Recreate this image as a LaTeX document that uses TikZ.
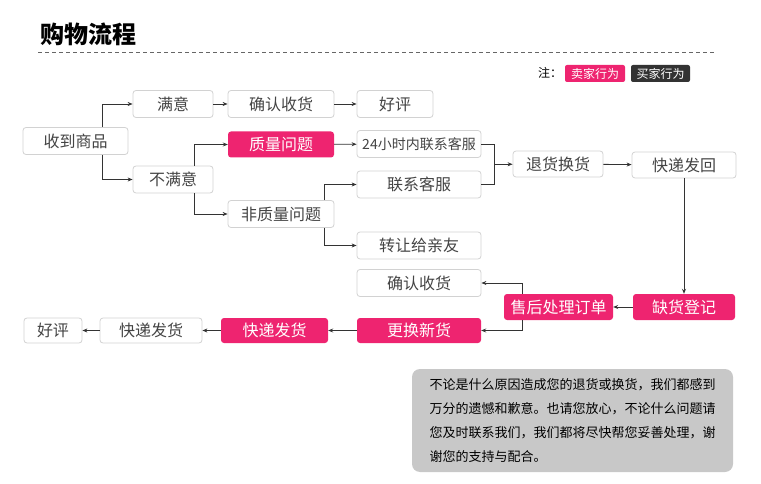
\documentclass[tikz,border=0pt]{standalone}
\usepackage{fontspec}
\newfontfamily\cjk{Noto Sans CJK SC}
\usepackage{tikz}
\usetikzlibrary{arrows.meta,calc}
\definecolor{sellerpink}{RGB}{238,36,112}
\definecolor{buyerdark}{RGB}{51,51,51}
\definecolor{boxline}{RGB}{210,210,210}
\definecolor{boxtext}{RGB}{68,68,68}
\definecolor{notegray}{RGB}{200,200,200}

\begin{document}
\begin{tikzpicture}[x=1pt, y=-1pt,
  every node/.style={font=\cjk\fontsize{16}{18}\selectfont, inner sep=0pt},
  buyer/.style={draw=boxline, line width=0.8pt, rounded corners=3pt, fill=white, text=boxtext, minimum height=27pt},
  seller/.style={fill=sellerpink, rounded corners=3pt, text=white, minimum height=26pt},
  arr/.style={-{Stealth[length=5pt,width=4pt]}, line width=0.8pt, draw=buyerdark}]
  \useasboundingbox (0,0) rectangle (761,484);
  \node[font=\cjk\bfseries\fontsize{24}{26}\selectfont, text=black] (title) at (88.5,34) {购物流程};
  \draw[dashed, dash pattern=on 4pt off 3pt, draw=black!60, line width=0.8pt] (38,52) -- (716,52);
  \node[font=\cjk\fontsize{12}{14}\selectfont, text=black] (note) at (550,73) {注：};
  \node[seller, rounded corners=2pt, minimum width=60pt, minimum height=17pt, font=\cjk\fontsize{12}{14}\selectfont] (keyseller) at (595,73.5) {卖家行为};
  \node[fill=buyerdark, rounded corners=2pt, text=white, minimum width=59pt, minimum height=17pt, font=\cjk\fontsize{12}{14}\selectfont] (keybuyer) at (660.5,73.5) {买家行为};

  \node[buyer, minimum width=105pt] (recv) at (75.5,141) {收到商品};
  \node[buyer, minimum width=80pt] (sat) at (173,104) {满意};
  \node[buyer, minimum width=106pt] (ok1) at (281,104) {确认收货};
  \node[buyer, minimum width=76pt] (good1) at (395,104) {好评};
  \node[buyer, minimum width=80pt] (unsat) at (173,179.5) {不满意};
  \node[seller, minimum width=106pt] (qual) at (281,144.5) {质量问题};
  \node[buyer, minimum width=106pt] (nonqual) at (281,214) {非质量问题};
  \node[buyer, minimum width=124pt, font=\cjk\fontsize{14}{16}\selectfont] (hotline) at (419,144) {24小时内联系客服};
  \node[buyer, minimum width=124pt] (service) at (419,184.5) {联系客服};
  \node[buyer, minimum width=124pt] (friend) at (419,245.5) {转让给亲友};
  \node[buyer, minimum width=90pt, minimum height=26pt] (refund) at (558,164) {退货换货};
  \node[buyer, minimum width=104pt, minimum height=26pt] (sendback) at (684,165) {快递发回};
  \node[buyer, minimum width=124pt] (ok2) at (419,283) {确认收货};
  \node[seller, minimum width=109pt] (aftersale) at (558.5,307) {售后处理订单};
  \node[seller, minimum width=102pt] (stockout) at (684,307) {缺货登记};
  \node[seller, minimum width=124pt, minimum height=25pt] (newgoods) at (419,330.5) {更换新货};
  \node[seller, minimum width=107pt, minimum height=25pt] (ship1) at (274.5,330.5) {快递发货};
  \node[buyer, minimum width=102pt, minimum height=25pt] (ship2) at (151,330.5) {快递发货};
  \node[buyer, minimum width=58pt, minimum height=25pt] (good2) at (53,330.5) {好评};

  \draw[arr] ([xshift=26.5pt]recv.north) |- (sat);
  \draw[arr] ([xshift=26.5pt]recv.south) |- (unsat);
  \draw[arr] (sat) -- (ok1);
  \draw[arr] (ok1) -- (good1);
  \draw[arr] ([xshift=21pt]unsat.north) |- (qual);
  \draw[arr] ([xshift=21pt]unsat.south) |- (nonqual);
  \draw[arr] (qual) -- (hotline);
  \draw[arr] ([xshift=43pt]nonqual.north) |- (service);
  \draw[arr] ([xshift=43pt]nonqual.south) |- (friend);
  \draw[line width=0.8pt, draw=buyerdark] (hotline.east) -- ++(13pt,0) |- (service.east);
  \coordinate (join) at ($(hotline.east)!.5!(service.east)+(13pt,0)$);
  \draw[arr] (join) -- (join -| refund.west);
  \draw[arr] (refund) -- (sendback);
  \draw[arr] (sendback) -- (stockout);
  \draw[arr] (stockout) -- (aftersale);
  \draw[arr] ([xshift=-36.5pt]aftersale.north) |- (ok2);
  \draw[arr] ([xshift=-36.5pt]aftersale.south) |- (newgoods);
  \draw[arr] (newgoods) -- (ship1);
  \draw[arr] (ship1) -- (ship2);
  \draw[arr] (ship2) -- (good2);

  \node[fill=notegray, rounded corners=8pt, minimum width=321pt, minimum height=103pt, align=left, text=black, font=\cjk\fontsize{13}{24}\selectfont] (apology) at (572.5,420.5) {不论是什么原因造成您的退货或换货，我们都感到\\万分的遗憾和歉意。也请您放心，不论什么问题请\\您及时联系我们，我们都将尽快帮您妥善处理，谢\\谢您的支持与配合。};
\end{tikzpicture}
\end{document}
